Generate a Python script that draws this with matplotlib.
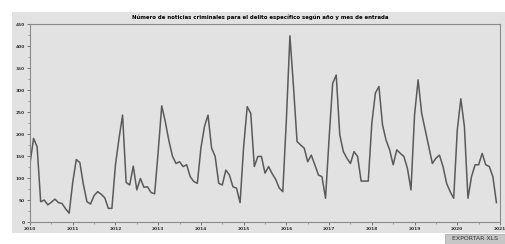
import matplotlib
matplotlib.use("Agg")
import matplotlib.pyplot as plt
from matplotlib.patches import Rectangle
import numpy as np

# monthly counts, Jan 2010 .. Dec 2020
start_year = 2010
counts = [
    133, 190, 171, 46, 50, 39, 45, 52, 44, 42, 30, 20,        # 2010
    90, 142, 135, 85, 46, 41, 60, 69, 63, 55, 31, 31,         # 2011
    130, 190, 243, 90, 84, 127, 73, 99, 79, 80, 67, 64,       # 2012
    160, 264, 228, 185, 150, 133, 137, 126, 130, 103, 92, 88, # 2013
    168, 217, 243, 168, 149, 88, 84, 118, 107, 80, 77, 44,    # 2014
    171, 262, 247, 126, 149, 149, 111, 126, 110, 97, 77, 69,  # 2015
    232, 423, 308, 183, 175, 168, 137, 152, 130, 107, 103, 54,# 2016
    190, 315, 334, 198, 160, 145, 133, 160, 149, 93, 93, 93,  # 2017
    224, 293, 308, 221, 186, 164, 130, 164, 156, 149, 122, 73,# 2018
    243, 323, 247, 209, 171, 133, 145, 152, 126, 88, 69, 54,  # 2019
    209, 280, 217, 54, 103, 130, 130, 156, 130, 126, 103, 44, # 2020
]
year_ticks = list(range(2010, 2022))
y_ticks = list(range(0, 451, 50))
title = "Número de noticias criminales para el delito específico según año y mes de entrada"

x = start_year + np.arange(len(counts)) / 12.0

fig = plt.figure(figsize=(5.05, 2.44), dpi=100)
fig.patch.set_facecolor("white")
# grey panel behind the chart
fig.patches.append(Rectangle((12/505, 11/244), 1 - 12/505, 1 - 23/244,
                             transform=fig.transFigure, facecolor="#e2e2e2",
                             edgecolor="none", zorder=-5))

ax = fig.add_axes([30/505, 22/244, 470/505, 198/244])
ax.set_facecolor("#e2e2e2")
ax.plot(x, counts, color="#5a5a5a", linewidth=1.1)

ax.set_xlim(2010, 2021)
ax.set_ylim(0, 450)
ax.set_xticks(year_ticks)
ax.set_xticklabels([str(y) for y in year_ticks])
ax.set_xticks([y + 0.5 for y in year_ticks[:-1]], minor=True)
ax.set_yticks(y_ticks)
ax.set_yticks(range(25, 450, 50), minor=True)
ax.tick_params(axis="both", labelsize=3.2, length=2, width=0.6, color="#666666", pad=1.5)
ax.tick_params(which="minor", length=1.2, width=0.5, color="#888888")
for lab in ax.get_xticklabels() + ax.get_yticklabels():
    lab.set_fontweight("bold")
    lab.set_color("#333333")
for s in ax.spines.values():
    s.set_color("#8a8a8a")
    s.set_linewidth(0.8)

fig.text(0.515, (244 - 17) / 244, title, ha="center", va="center",
         fontsize=3.9, fontweight="bold", color="black")

# export button
fig.patches.append(Rectangle((445/505, 0), 60/505, 10/244,
                             transform=fig.transFigure, facecolor="#c6c6c6",
                             edgecolor="#a0a0a0", linewidth=0.5, zorder=1))
fig.text(475/505, 5/244, "EXPORTAR XLS", ha="center", va="center",
         fontsize=4.5, color="#333333")

fig.savefig("out.png", dpi=100, facecolor=fig.get_facecolor())
